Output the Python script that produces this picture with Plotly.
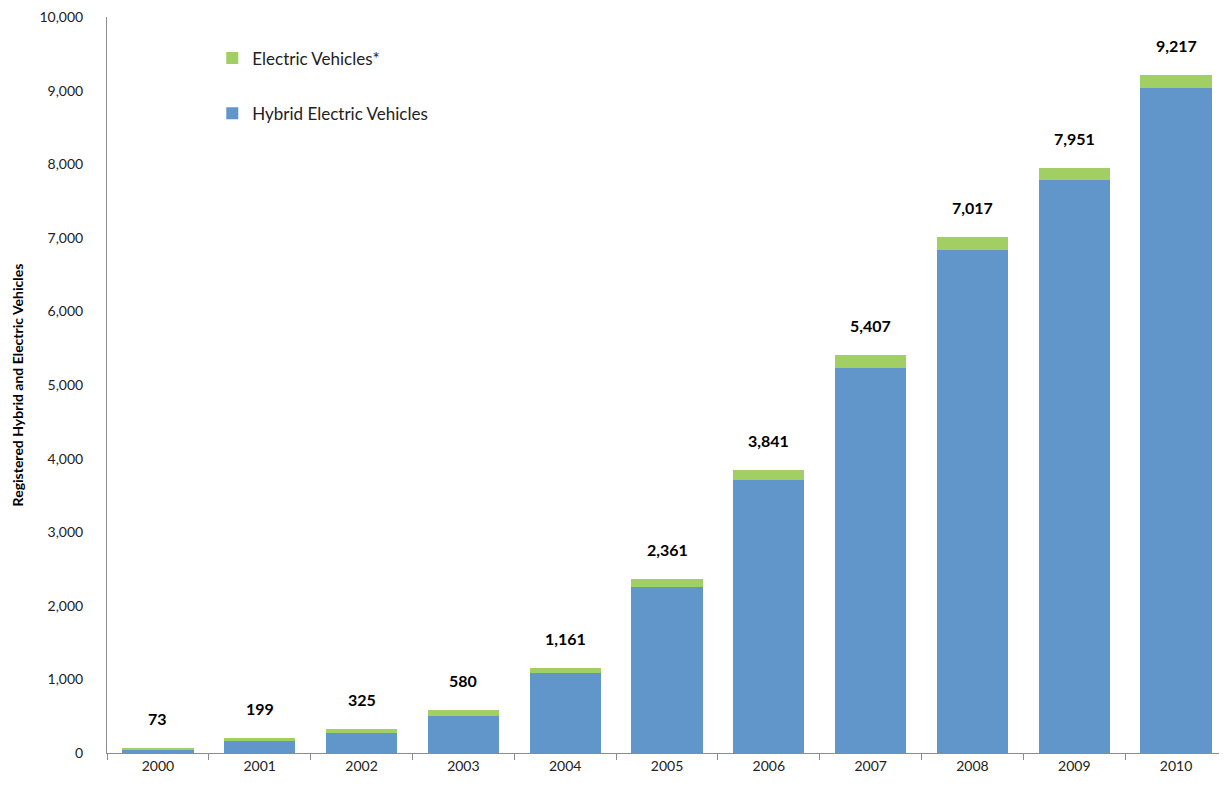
import plotly.graph_objects as go

years = ["2000", "2001", "2002", "2003", "2004", "2005", "2006", "2007", "2008", "2009", "2010"]
hybrid = [53, 169, 270, 505, 1081, 2261, 3706, 5227, 6832, 7786, 9037]
electric = [20, 30, 55, 75, 80, 100, 135, 180, 185, 165, 180]
totals = [73, 199, 325, 580, 1161, 2361, 3841, 5407, 7017, 7951, 9217]
total_labels = ["73", "199", "325", "580", "1,161", "2,361", "3,841", "5,407", "7,017", "7,951", "9,217"]

FONT = "Lato"

fig = go.Figure()
fig.add_trace(go.Bar(x=years, y=hybrid, name="Hybrid Electric Vehicles",
                     marker=dict(color="#6096CA", line=dict(width=0)),
                     legendgroup="h", legendrank=2))
fig.add_trace(go.Bar(x=years, y=electric, name="Electric Vehicles*",
                     marker=dict(color="#A2CF64", line=dict(width=0)),
                     legendgroup="e", legendrank=1))

for i, (t, lab) in enumerate(zip(totals, total_labels)):
    fig.add_annotation(x=i, y=t, text="<b>" + lab + "</b>", showarrow=False,
                       yanchor="bottom", yshift=18,
                       font=dict(family=FONT, size=16, color="#000000"))

fig.update_layout(
    width=1219, height=779,
    barmode="stack", bargap=0.3,
    plot_bgcolor="white", paper_bgcolor="white",
    margin=dict(l=99, r=0, t=9, b=34),
    font=dict(family=FONT, size=14, color="#222222"),
    legend=dict(x=0.094, y=0.968, xanchor="left", yanchor="top",
                traceorder="grouped", tracegroupgap=30,
                font=dict(family=FONT, size=17, color="#222222"),
                itemwidth=30, bgcolor="rgba(0,0,0,0)"),
    xaxis=dict(type="category", categoryorder="array", categoryarray=years,
               range=[-0.5, len(years) - 0.5],
               showline=True, linecolor="#8c8c8c", linewidth=1,
               ticks="outside", tickson="boundaries", ticklen=6, tickcolor="#8c8c8c",
               showgrid=False, tickfont=dict(family=FONT, size=14, color="#222222")),
    yaxis=dict(range=[0, 10000], dtick=1000, tickformat=",d", showline=True,
               linecolor="#8c8c8c", linewidth=1, showgrid=False, zeroline=False,
               ticks="", ticklabelstandoff=20, ticklabeloverflow="allow",
               tickfont=dict(family=FONT, size=14, color="#222222"),
               title=dict(text="<b>Registered Hybrid and Electric Vehicles</b>",
                          font=dict(family=FONT, size=14, color="#000000"), standoff=12)),
)

fig.write_html("out.html")
